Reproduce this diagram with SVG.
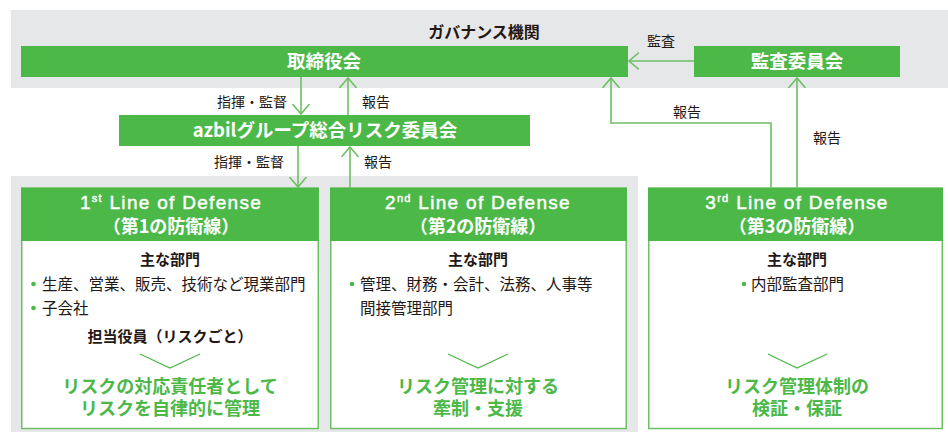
<svg xmlns="http://www.w3.org/2000/svg" width="948" height="432" viewBox="0 0 948 432">
<style>
text{font-family:"Noto Sans CJK JP","Liberation Sans",sans-serif;}
.gray{fill:#e6e7e8;}
.bar{fill:#4cb848;}
.bt{fill:#fff;font-size:18.5px;font-weight:bold;text-anchor:middle;}
.lbl{fill:#231815;font-size:14px;}
.con{fill:none;stroke:#6cc063;stroke-width:1.6;}
.box{fill:#fff;stroke:#6cc063;stroke-width:1.5;}
.hd{fill:#fff;stroke:#fff;stroke-width:0.45px;font-size:19px;text-anchor:middle;font-family:"Liberation Sans","Noto Sans CJK JP",sans-serif;letter-spacing:1.3px;}
.hd2{fill:#fff;font-size:18px;font-weight:bold;text-anchor:middle;}
.sub{fill:#231815;font-size:15px;font-weight:bold;text-anchor:middle;}
.li{fill:#231815;font-size:15.5px;}
.dot{fill:#4cb848;}
.chev{fill:none;stroke:#4cb848;stroke-width:1.2;}
.gt{fill:#4cb848;font-size:18px;font-weight:bold;text-anchor:middle;}
</style>
<defs>
<marker id="ah" viewBox="0 0 20 20" refX="10" refY="10" markerWidth="20" markerHeight="20" markerUnits="userSpaceOnUse" orient="auto">
<path d="M0,1.5 L10,10 L0,18.5" fill="none" stroke="#6cc063" stroke-width="1.6"/>
</marker>
</defs>
<rect class="gray" x="11" y="10" width="937" height="78"/>
<rect class="gray" x="11" y="176" width="627" height="256"/>
<text x="484" y="38" font-size="16" font-weight="bold" fill="#231815" text-anchor="middle">ガバナンス機関</text>

<g id="connectors">
<line class="con" x1="694" y1="61" x2="629" y2="61" marker-end="url(#ah)"/>
<line class="con" x1="301" y1="77" x2="301" y2="114" marker-end="url(#ah)"/>
<line class="con" x1="348" y1="115" x2="348" y2="78" marker-end="url(#ah)"/>
<line class="con" x1="298" y1="146" x2="298" y2="187" marker-end="url(#ah)"/>
<line class="con" x1="350" y1="188" x2="350" y2="147" marker-end="url(#ah)"/>
<polyline class="con" points="771,188 771,123 611,123 611,78" marker-end="url(#ah)"/>
<line class="con" x1="797" y1="188" x2="797" y2="78" marker-end="url(#ah)"/>
<text class="lbl" x="661" y="46" text-anchor="middle">監査</text>
<text class="lbl" x="287" y="107" text-anchor="end">指揮・監督</text>
<text class="lbl" x="362" y="107">報告</text>
<text class="lbl" x="284" y="167" text-anchor="end">指揮・監督</text>
<text class="lbl" x="364" y="167">報告</text>
<text class="lbl" x="687" y="117" text-anchor="middle">報告</text>
<text class="lbl" x="827" y="143" text-anchor="middle">報告</text>
</g>

<g id="board">
<rect class="bar" x="21" y="46" width="607" height="31"/>
<text class="bt" x="324" y="68">取締役会</text>
</g>
<g id="audit-committee">
<rect class="bar" x="694" y="46" width="206" height="31"/>
<text class="bt" x="797" y="68">監査委員会</text>
</g>
<g id="risk-committee">
<rect class="bar" x="119" y="115" width="411" height="31"/>
<text class="bt" x="325" y="137">azbilグループ総合リスク委員会</text>
</g>

<g id="line1">
<rect class="box" x="21.75" y="188" width="296.5" height="240.5"/>
<rect class="bar" x="21" y="188" width="298" height="53"/>
<text class="hd" x="171" y="209">1<tspan font-size="11" dy="-7">st</tspan><tspan dy="7"> Line of Defense</tspan></text>
<text class="hd2" x="171" y="233">（第1の防衛線）</text>
<text class="sub" x="170" y="265">主な部門</text>
<circle class="dot" cx="33.5" cy="284" r="2.3"/>
<text class="li" x="42" y="290">生産、営業、販売、技術など現業部門</text>
<circle class="dot" cx="33.5" cy="308" r="2.3"/>
<text class="li" x="42" y="314">子会社</text>
<text class="sub" x="170" y="342">担当役員（リスクごと）</text>
<polyline class="chev" points="140,354 170,368 200,354"/>
<text class="gt" x="170" y="393">リスクの対応責任者として</text>
<text class="gt" x="170" y="415">リスクを自律的に管理</text>
</g>

<g id="line2">
<rect class="box" x="330.75" y="188" width="295.5" height="240.5"/>
<rect class="bar" x="330" y="188" width="297" height="53"/>
<text class="hd" x="478" y="209">2<tspan font-size="11" dy="-7">nd</tspan><tspan dy="7"> Line of Defense</tspan></text>
<text class="hd2" x="478" y="233">（第2の防衛線）</text>
<text class="sub" x="478" y="265">主な部門</text>
<circle class="dot" cx="352" cy="284" r="2.3"/>
<text class="li" x="360" y="290">管理、財務・会計、法務、人事等</text>
<text class="li" x="360" y="314">間接管理部門</text>
<polyline class="chev" points="448,354 478,368 508,354"/>
<text class="gt" x="478" y="393">リスク管理に対する</text>
<text class="gt" x="478" y="415">牽制・支援</text>
</g>

<g id="line3">
<rect class="box" x="648.75" y="188" width="293.5" height="240.5"/>
<rect class="bar" x="648" y="188" width="295" height="53"/>
<text class="hd" x="797" y="209">3<tspan font-size="11" dy="-7">rd</tspan><tspan dy="7"> Line of Defense</tspan></text>
<text class="hd2" x="797" y="233">（第3の防衛線）</text>
<text class="sub" x="797" y="265">主な部門</text>
<circle class="dot" cx="744" cy="284" r="2.3"/>
<text class="li" x="751" y="290" font-size="16.5">内部監査部門</text>
<polyline class="chev" points="768,354 797,368 827,354"/>
<text class="gt" x="797" y="393">リスク管理体制の</text>
<text class="gt" x="797" y="415">検証・保証</text>
</g>
</svg>
